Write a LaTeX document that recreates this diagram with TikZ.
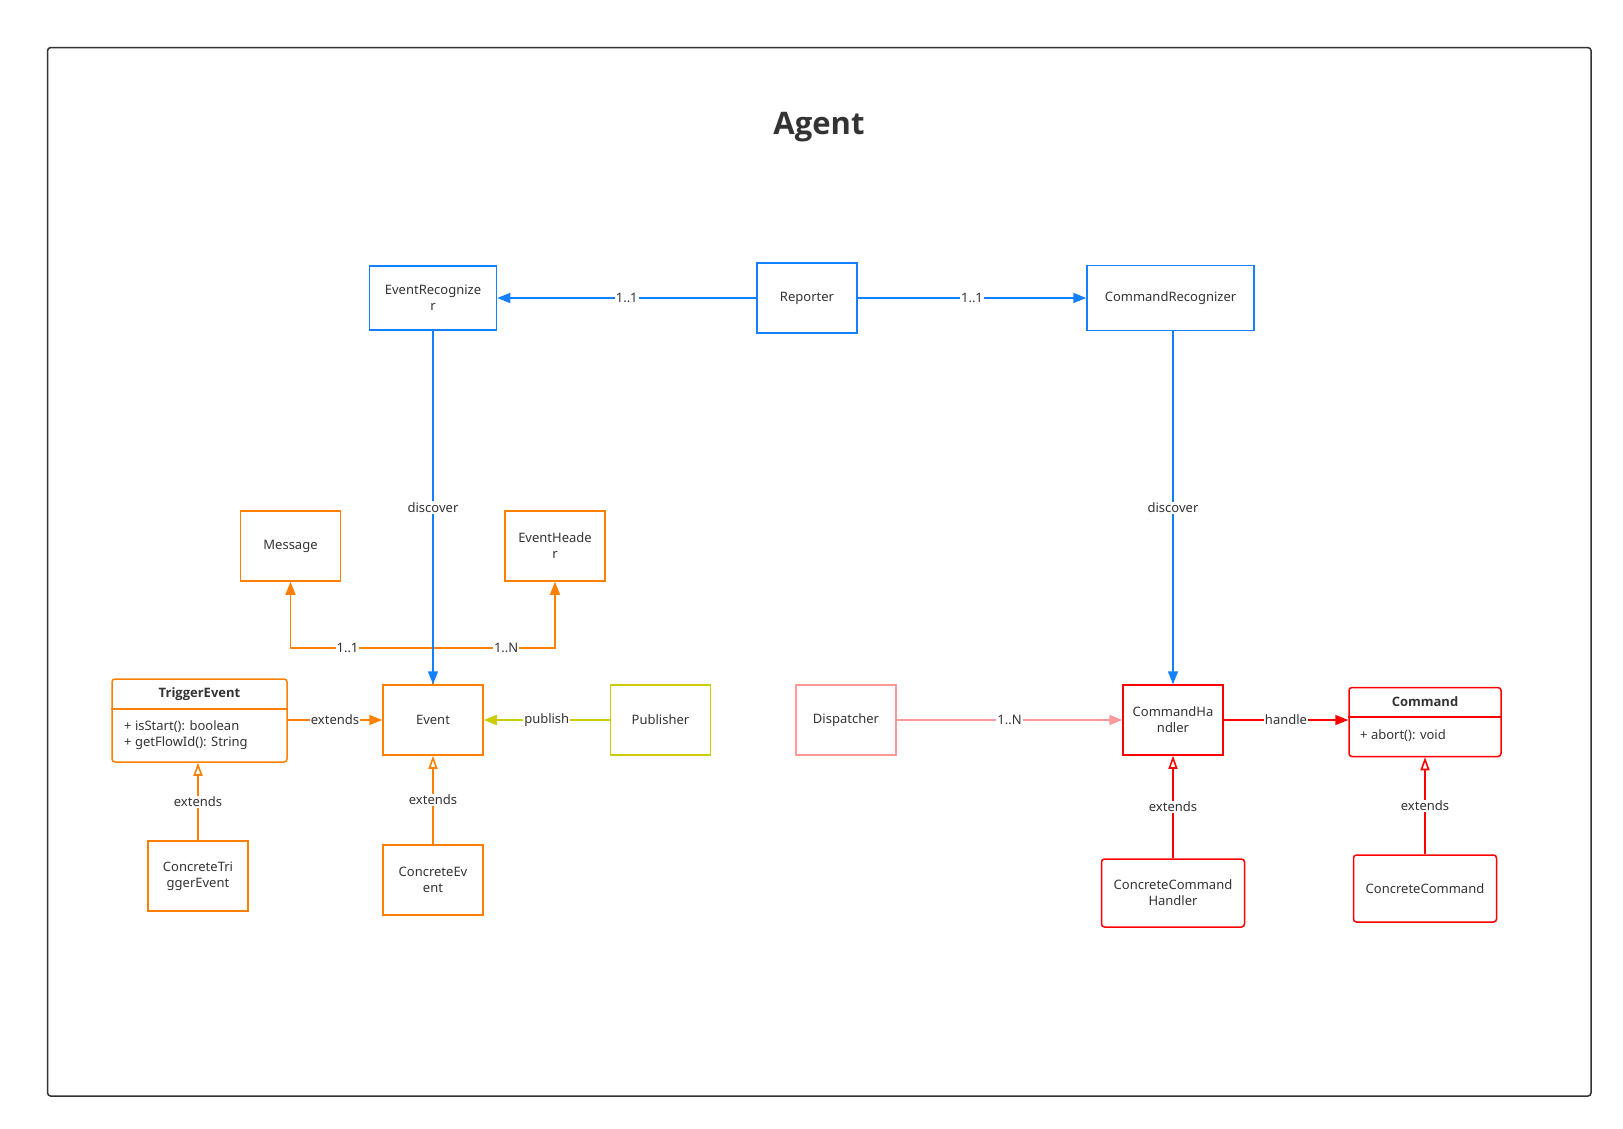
\documentclass[tikz,border=0pt]{standalone}
\usepackage{fontspec}
\setmainfont{Noto Sans}
\newfontfamily\headfont{Open Sans}
\usetikzlibrary{arrows.meta}
\definecolor{frameC}{HTML}{333333}
\definecolor{blueC}{HTML}{1380FF}
\definecolor{orangeC}{HTML}{FF8000}
\definecolor{redC}{HTML}{FF0000}
\definecolor{pinkC}{HTML}{FF9999}
\definecolor{yellowC}{HTML}{CCCC00}
\begin{document}
\begin{tikzpicture}[x=1pt, y=-1pt,
    every node/.style={text=frameC, font=\fontsize{13}{16}\selectfont},
    box/.style={draw=#1, line width=1.5pt, minimum width=100pt, minimum height=70pt, align=center, inner sep=2pt},
    cbox/.style={box=#1, rounded corners=3pt},
    conn/.style={draw=#1, line width=1.6pt},
    lbl/.style={fill=white, inner sep=1pt},
    fullhead/.style={-{Triangle[length=13pt, width=10pt]}},
    openhead/.style={-{Triangle[open, fill=white, length=13pt, width=9pt]}}]
    \useasboundingbox (0,0) rectangle (1623,1129);
    \draw[frameC, line width=1.5pt, rounded corners=3pt] (47.6,47.6) rectangle (1591,1096);
    \node[font=\headfont\fontsize{31}{38}\selectfont\bfseries] (title) at (819,127) {Agent};

    \node[box=blueC, minimum width=127pt, minimum height=64pt] (evrec) at (433,298) {EventRecognize\\r};
    \node[box=blueC] (reporter) at (807,298) {Reporter};
    \node[box=blueC, minimum width=167pt, minimum height=65pt] (cmdrec) at (1170.5,298) {CommandRecognizer};

    \node[box=orangeC] (message) at (290.5,546) {Message};
    \node[box=orangeC] (evheader) at (555,546) {EventHeade\\r};
    \node[box=orangeC] (event) at (433,720) {Event};
    \node[box=yellowC] (publisher) at (660.5,720) {Publisher};
    \node[cbox=orangeC, minimum width=175pt, minimum height=83pt] (trigger) at (199.5,720.5) {};
    \node[font=\headfont\fontsize{13}{16}\selectfont\bfseries] (triggername) at (199.5,694) {TriggerEvent};
    \node[anchor=north west, align=left, inner sep=0pt] (triggerops) at (124,720) {+ isStart(): boolean\\+ getFlowId(): String};
    \node[box=orangeC] (ctrigger) at (198,876) {ConcreteTri\\ggerEvent};
    \node[box=orangeC] (cevent) at (433,880) {ConcreteEv\\ent};

    \node[box=pinkC] (dispatcher) at (846,720) {Dispatcher};
    \node[box=redC] (cmdhandler) at (1173,720) {CommandHa\\ndler};
    \node[cbox=redC, minimum width=152pt, minimum height=69pt] (command) at (1425,722) {};
    \node[font=\headfont\fontsize{13}{16}\selectfont\bfseries] (commandname) at (1425,702) {Command};
    \node[anchor=west, inner sep=0pt] (commandops) at (1360,736) {+ abort(): void};
    \node[cbox=redC, minimum width=143pt, minimum height=68pt] (ccmdhandler) at (1173,893) {ConcreteCommand\\Handler};
    \node[cbox=redC, minimum width=143pt, minimum height=67pt] (ccommand) at (1425,888.5) {ConcreteCommand};

    \draw[orangeC, line width=1.5pt] (trigger.west |- 0,709) -- (trigger.east |- 0,709);
    \draw[redC, line width=1.5pt] (command.west |- 0,717) -- (command.east |- 0,717);

    \coordinate (split) at (433,648);
    \draw[conn=orangeC] (event.north) -- (split);
    \draw[conn=orangeC, fullhead] (split) -| node[lbl, pos=0.3] {1..1} (message.south);
    \draw[conn=orangeC, fullhead] (split) -| node[lbl, pos=0.3] {1..N} (evheader.south);

    \draw[conn=blueC, fullhead] (reporter.west) -- node[lbl] {1..1} (evrec.east);
    \draw[conn=blueC, fullhead] (reporter.east) -- node[lbl] {1..1} (cmdrec.west);
    \draw[conn=blueC, fullhead] (evrec.south) -- node[lbl] {discover} (event.north);
    \draw[conn=blueC, fullhead] (cmdrec.south -| cmdhandler.north) -- node[lbl] {discover} (cmdhandler.north);

    \draw[conn=orangeC, fullhead] (trigger.east |- event.west) -- node[lbl] {extends} (event.west);
    \draw[conn=yellowC, fullhead] (publisher.west) -- node[lbl] {publish} (event.east);
    \draw[conn=orangeC, openhead] (ctrigger.north) -- node[lbl] {extends} (ctrigger.north |- trigger.south);
    \draw[conn=orangeC, openhead] (cevent.north) -- node[lbl] {extends} (event.south);

    \draw[conn=pinkC, fullhead] (dispatcher.east) -- node[lbl] {1..N} (cmdhandler.west);
    \draw[conn=redC, fullhead] (cmdhandler.east) -- node[lbl] {handle} (cmdhandler.east -| command.west);
    \draw[conn=redC, openhead] (ccmdhandler.north) -- node[lbl] {extends} (cmdhandler.south);
    \draw[conn=redC, openhead] (ccommand.north) -- node[lbl] {extends} (command.south);
\end{tikzpicture}
\end{document}
